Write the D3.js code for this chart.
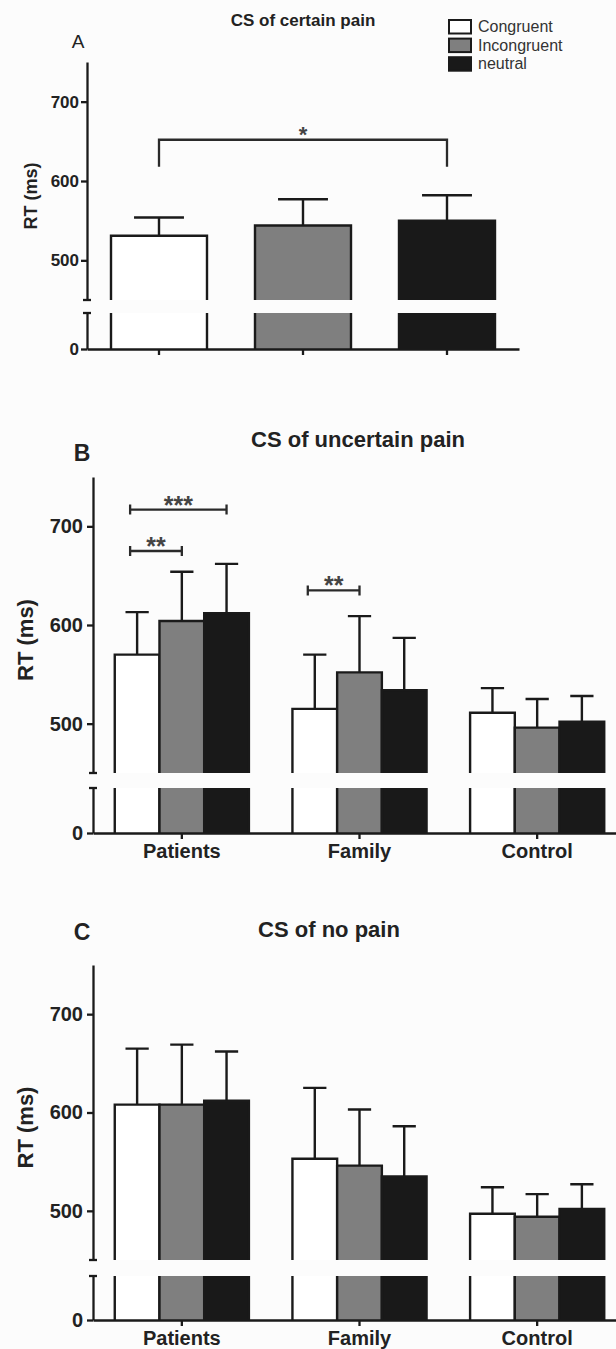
<!DOCTYPE html>
<html>
<head>
<meta charset="utf-8">
<script src="https://cdn.jsdelivr.net/npm/d3@7"></script>
<style>
  body { margin: 0; background: #fcfcfc; }
  svg { display: block; font-family: "Liberation Sans", Arial, sans-serif; }
</style>
</head>
<body>
<svg id="chart" width="616" height="1349"></svg>
<script>
/***** Data *****/
const conditions = ["Congruent", "Incongruent", "neutral"];
const groups = ["Patients", "Family", "Control"];
const yTicks = [500, 600, 700];
const yDomainUpper = [450, 750];

// A : CS of certain pain, one bar per condition
const certainMean = [531, 544, 550];
const certainSem = [23, 33, 32];

// B : CS of uncertain pain (rows = groups, columns = conditions)
const uncertainMean = [[570, 604, 612], [515, 552, 534], [511, 496, 502]];
const uncertainSem = [[43, 50, 50], [55, 57, 53], [25, 29, 26]];

// C : CS of no pain
const noPainMean = [[608, 608, 612], [553, 546, 535], [497, 494, 502]];
const noPainSem = [[57, 61, 50], [72, 57, 51], [27, 23, 25]];

// significance brackets
const certainSig = [{from: 0, to: 2, y: 652, drop: 618, label: "*"}];
const uncertainSig = [
    {group: "Patients", from: 0, to: 2, y: 717, label: "***"},
    {group: "Patients", from: 0, to: 1, y: 675, label: "**"},
    {group: "Family", from: 0, to: 1, y: 635, label: "**"}
];

/***** Setup *****/
var svg = d3.select("#chart");
var ink = "#1a1a1a";
var color = d3.scaleOrdinal().domain(conditions).range(["#ffffff", "#7f7f7f", "#191919"]);

/***** One panel with a broken y axis *****/
function drawPanel(p) {
    var g = svg.append("g");

    var yUp = d3.scaleLinear().domain(yDomainUpper).range([p.breakTop, p.top]);
    var yLow = d3.scaleLinear().domain([0, 50]).range([p.base, p.breakBottom]);

    var x0 = d3.scaleBand().domain(p.categories).range([p.left, p.right])
        .paddingInner(p.padInner).paddingOuter(p.padInner / 2);

    // flat list of bars
    var bars = [];
    if (p.grouped) {
        var x1 = d3.scaleBand().domain(conditions).range([0, x0.bandwidth()]);
        p.categories.forEach(function(gr, i) {
            conditions.forEach(function(c, j) {
                bars.push({x: x0(gr) + x1(c), w: x1.bandwidth(), mean: p.mean[i][j], sem: p.sem[i][j], cond: c});
            });
        });
        p.x1 = x1;
    } else {
        p.categories.forEach(function(c, i) {
            bars.push({x: x0(c), w: x0.bandwidth(), mean: p.mean[i], sem: p.sem[i], cond: c});
        });
    }

    /***** Bars (upper and lower pieces) *****/
    var bar = g.selectAll("g.bar").data(bars).enter().append("g").attr("class", "bar");

    bar.append("rect")
        .attr("x", function(d) { return d.x; })
        .attr("y", function(d) { return yUp(d.mean); })
        .attr("width", function(d) { return d.w; })
        .attr("height", function(d) { return p.breakTop - yUp(d.mean); })
        .attr("fill", function(d) { return color(d.cond); });

    bar.append("rect")
        .attr("x", function(d) { return d.x; })
        .attr("y", yLow.range()[1])
        .attr("width", function(d) { return d.w; })
        .attr("height", yLow(0) - yLow.range()[1])
        .attr("fill", function(d) { return color(d.cond); });

    bar.append("path")
        .attr("fill", "none").attr("stroke", ink).attr("stroke-width", 2.4)
        .attr("d", function(d) {
            return "M" + d.x + "," + p.breakTop + "V" + yUp(d.mean) + "H" + (d.x + d.w) + "V" + p.breakTop
                + "M" + d.x + "," + yLow.range()[1] + "V" + yLow(0)
                + "M" + (d.x + d.w) + "," + yLow.range()[1] + "V" + yLow(0);
        });

    /***** Error bars (upper only) *****/
    g.selectAll("path.err").data(bars).enter().append("path")
        .attr("class", "err")
        .attr("fill", "none").attr("stroke", ink).attr("stroke-width", 2.4)
        .attr("d", function(d) {
            var cx = d.x + d.w / 2, cap = d.w * 0.26;
            var yt = yUp(d.mean + d.sem);
            return "M" + cx + "," + yUp(d.mean) + "V" + yt + "M" + (cx - cap) + "," + yt + "H" + (cx + cap);
        });

    /***** Axes *****/
    var yAxisUp = g.append("g")
        .attr("transform", "translate(" + p.left + ",0)")
        .call(d3.axisLeft(yUp).tickValues(yTicks).tickSize(p.tick).tickSizeOuter(0).tickPadding(p.pad));

    var yAxisLow = g.append("g")
        .attr("transform", "translate(" + p.left + ",0)")
        .call(d3.axisLeft(yLow).tickValues([0]).tickSize(p.tick).tickSizeOuter(0).tickPadding(p.pad));

    var xAxis = g.append("g")
        .attr("transform", "translate(0," + p.base + ")")
        .call(d3.axisBottom(x0).tickSize(6).tickSizeOuter(0).tickPadding(5)
            .tickFormat(p.showLabels ? null : ""));

    [yAxisUp, yAxisLow, xAxis].forEach(function(a) {
        a.attr("font-family", null).attr("font-size", null);
        a.selectAll("path, line").attr("stroke", ink).attr("stroke-width", 2.3);
        a.selectAll("text").attr("fill", "#222").attr("font-weight", "bold");
    });
    yAxisUp.selectAll("text").attr("font-size", p.tickFont);
    yAxisLow.selectAll("text").attr("font-size", p.tickFont);
    xAxis.selectAll("text").attr("font-size", 20);

    // little marks at the axis break
    [p.breakTop, p.breakBottom].forEach(function(yb) {
        g.append("line")
            .attr("x1", p.left - 4).attr("x2", p.left + 4)
            .attr("y1", yb).attr("y2", yb)
            .attr("stroke", ink).attr("stroke-width", 2.3);
    });

    /***** Axis title, panel letter, panel title *****/
    g.append("text")
        .attr("transform", "translate(" + p.labelX + "," + ((p.top + p.breakTop) / 2 + 15) + ") rotate(-90)")
        .attr("text-anchor", "middle").attr("dy", "0.35em")
        .attr("font-weight", "bold").attr("font-size", p.labelFont).attr("fill", "#222")
        .text("RT (ms)");

    g.append("text")
        .attr("x", p.letterX).attr("y", p.letterY)
        .attr("text-anchor", "middle")
        .attr("font-weight", p.letterBold ? "bold" : "normal")
        .attr("font-size", p.letterFont).attr("fill", "#222")
        .text(p.letter);

    g.append("text")
        .attr("x", p.titleX).attr("y", p.titleY)
        .attr("text-anchor", "middle")
        .attr("font-weight", "bold").attr("font-size", p.titleFont).attr("fill", "#222")
        .text(p.title);

    /***** Significance brackets *****/
    p.sig.forEach(function(s) {
        var xa, xb;
        if (p.grouped) {
            var base = x0(s.group), half = p.x1.bandwidth() / 2;
            xa = base + p.x1(conditions[s.from]) + half - 7;
            xb = base + p.x1(conditions[s.to]) + half;
        } else {
            xa = x0(conditions[s.from]) + x0.bandwidth() / 2;
            xb = x0(conditions[s.to]) + x0.bandwidth() / 2;
        }
        var yl = yUp(s.y);
        var d;
        if (s.drop !== undefined) {
            d = "M" + xa + "," + yUp(s.drop) + "V" + yl + "H" + xb + "V" + yUp(s.drop);
        } else {
            d = "M" + xa + "," + yl + "H" + xb
                + "M" + xa + "," + (yl - 5) + "V" + (yl + 5)
                + "M" + xb + "," + (yl - 5) + "V" + (yl + 5);
        }
        g.append("path").attr("d", d)
            .attr("fill", "none").attr("stroke", "#2a2a2a").attr("stroke-width", 2.3);
        g.append("text")
            .attr("x", (xa + xb) / 2).attr("y", yl + p.starShift)
            .attr("text-anchor", "middle")
            .attr("font-size", p.starFont).attr("font-weight", "bold").attr("fill", "#444")
            .text(s.label);
    });
}

/***** Panel A *****/
drawPanel({
    categories: conditions, grouped: false, mean: certainMean, sem: certainSem, sig: certainSig,
    left: 87, right: 519, padInner: 1 / 3,
    top: 62, breakTop: 300, breakBottom: 313, base: 349,
    tick: 6, pad: 2, tickFont: 17, showLabels: false,
    labelX: 31, labelFont: 18,
    letter: "A", letterX: 78, letterY: 48, letterFont: 19, letterBold: false,
    title: "CS of certain pain", titleX: 303, titleY: 26, titleFont: 17,
    starFont: 22, starShift: 2
});

/***** Panel B *****/
drawPanel({
    categories: groups, grouped: true, mean: uncertainMean, sem: uncertainSem, sig: uncertainSig,
    left: 93, right: 626, padInner: 0.245,
    top: 477, breakTop: 773, breakBottom: 788, base: 833,
    tick: 6, pad: 4, tickFont: 20, showLabels: true,
    labelX: 25, labelFont: 22,
    letter: "B", letterX: 82, letterY: 461, letterFont: 23, letterBold: true,
    title: "CS of uncertain pain", titleX: 358, titleY: 447, titleFont: 22,
    starFont: 25, starShift: 4
});

/***** Panel C *****/
drawPanel({
    categories: groups, grouped: true, mean: noPainMean, sem: noPainSem, sig: [],
    left: 93, right: 626, padInner: 0.245,
    top: 965, breakTop: 1260, breakBottom: 1276, base: 1320,
    tick: 6, pad: 4, tickFont: 20, showLabels: true,
    labelX: 25, labelFont: 22,
    letter: "C", letterX: 82, letterY: 940, letterFont: 23, letterBold: true,
    title: "CS of no pain", titleX: 329, titleY: 937, titleFont: 22,
    starFont: 25, starShift: 4
});

/***** Legend *****/
var legend = svg.selectAll("g.legend").data(conditions).enter().append("g").attr("class", "legend");

legend.append("rect")
    .attr("x", 449)
    .attr("y", function(d, i) { return 20 + i * 18.6; })
    .attr("width", 22).attr("height", 13.5)
    .attr("fill", function(d) { return color(d); })
    .attr("stroke", ink).attr("stroke-width", 2);

legend.append("text")
    .attr("x", 478)
    .attr("y", function(d, i) { return 32 + i * 18.6; })
    .attr("font-size", 16).attr("fill", "#333")
    .text(function(d) { return d; });
</script>
</body>
</html>
